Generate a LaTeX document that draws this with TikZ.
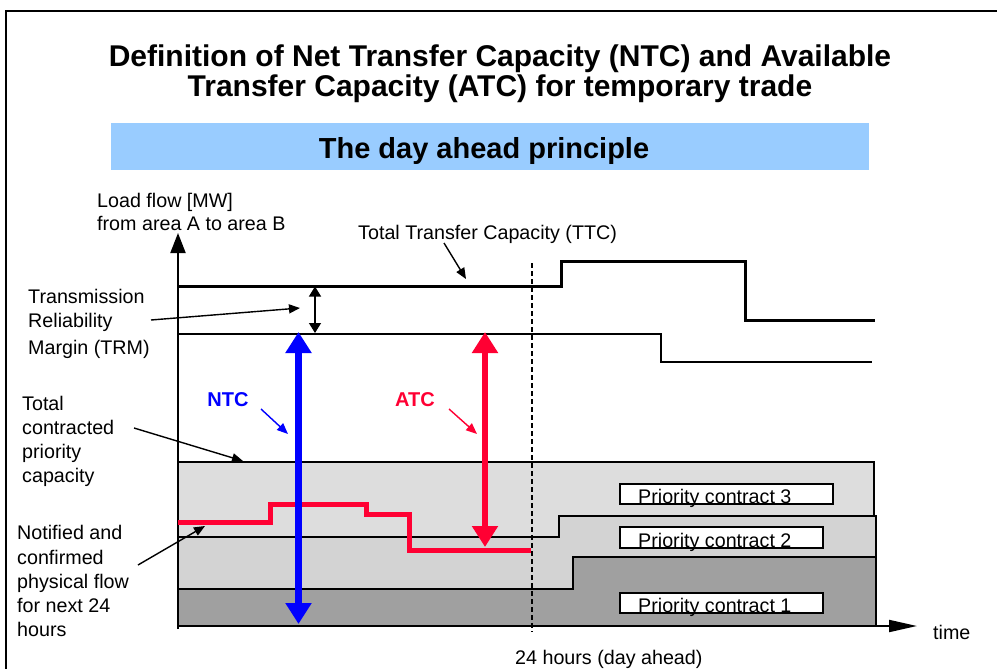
\documentclass[tikz,border=0pt]{standalone}
\usepackage{fontspec}
\setmainfont{Liberation Sans}
\usetikzlibrary{arrows.meta}
\definecolor{hdrblue}{HTML}{99CCFF}
\definecolor{ntcblue}{HTML}{0000FF}
\definecolor{atcred}{HTML}{FF0033}
\definecolor{gLight}{HTML}{DDDDDD}
\definecolor{gMid}{HTML}{D3D3D3}
\definecolor{gDark}{HTML}{A0A0A0}
\begin{document}
\begin{tikzpicture}[x=1pt,y=-1pt,
  lbl/.style={inner sep=0pt, font=\fontsize{19.7}{24}\selectfont, align=left, anchor=base west},
  boldlbl/.style={inner sep=0pt, font=\fontsize{20}{24}\selectfont\bfseries, anchor=center},
  note/.style={line width=1.4pt, -{Triangle[length=11pt,width=9pt]}},
  region/.style={draw=black, line width=1.5pt, line join=miter},
  pcbox/.style={draw=black, fill=white, line width=1.5pt, inner sep=0pt, anchor=north west},
  bigarrow/.style={line width=#1, {Triangle[length=21pt,width=25pt]}-{Triangle[length=21pt,width=25pt]}}
]
\useasboundingbox (0,0) rectangle (997,669);
% frame
\draw[line width=2pt] (6,11) rectangle (1020,690);

% title (base anchor = baseline of the last line)
\node[inner sep=0pt, anchor=base, align=center, font=\fontsize{30}{30}\selectfont\bfseries] (title) at (500,97)
  {Definition of Net Transfer Capacity (NTC) and Available\\Transfer Capacity (ATC) for temporary trade};
\node[fill=hdrblue, inner sep=0pt, minimum width=758pt, minimum height=47pt, anchor=north west] (hdr) at (111,123) {};
\node[inner sep=0pt, anchor=base, font=\fontsize{29}{29}\selectfont\bfseries] (hdrtxt) at (484,158.5) {The day ahead principle};

% priority regions
\fill[gLight] (178,462) -- (874,462) -- (874,626) -- (178,626) -- cycle;
\draw[region] (178,462) -- (874,462) -- (874,516);
\filldraw[region, fill=gMid] (178,537) -- (559,537) -- (559,516) -- (876,516) -- (876,626) -- (178,626) -- cycle;
\filldraw[region, fill=gDark] (178,589) -- (573,589) -- (573,557) -- (876,557) -- (876,626) -- (178,626) -- cycle;

\node[pcbox, minimum width=213pt, minimum height=20pt] (pc3) at (619,483) {};
\node[pcbox, minimum width=203pt, minimum height=21pt] (pc2) at (619,526) {};
\node[pcbox, minimum width=203pt, minimum height=20pt] (pc1) at (619,592) {};
\node[lbl] (pc3t) at (638,503.3) {Priority contract 3};
\node[lbl] (pc2t) at (638,547.3) {Priority contract 2};
\node[lbl] (pc1t) at (638,612.3) {Priority contract 1};

% axes
\coordinate (yb) at (178,629);
\coordinate (ytip) at (178,233);
\coordinate (xb) at (177,626);
\coordinate (xtip) at (917,626);
\draw[line width=2pt, -{Triangle[length=20pt,width=15pt]}] (yb) -- (ytip);
\draw[line width=2pt, -{Triangle[length=28pt,width=12pt]}] (xb) -- (xtip);

% TTC and NTC lines
\draw[line width=3pt] (178,286) -- (561,286) -- (561,261) -- (745,261) -- (745,320) -- (875,320);
\draw[line width=1.5pt] (178,334) -- (661,334) -- (661,362) -- (872,362);

% TRM arrow
\coordinate (trmTop) at (315,286.5);
\coordinate (trmBot) at (315,333);
\draw[line width=1.3pt, {Triangle[length=10pt,width=12pt]}-{Triangle[length=10pt,width=12pt]}] (trmTop) -- (trmBot);

% 24 h dashed line
\draw[line width=2.5pt, dash pattern=on 5pt off 3pt] (532,263) -- (532,632);

% confirmed flow
\draw[atcred, line width=5pt] (178,522.5) -- (270,522.5) -- (270,504) -- (366,504) -- (366,514) -- (409,514) -- (409,550) -- (530.5,550);

% NTC and ATC arrows
\coordinate (ntcTop) at (298.5,332);
\coordinate (ntcBot) at (298.5,624);
\draw[ntcblue, bigarrow=7pt] (ntcTop) -- (ntcBot);
\coordinate (atcTop) at (485,332);
\coordinate (atcBot) at (485,547);
\draw[atcred, bigarrow=6pt] (atcTop) -- (atcBot);

\node[boldlbl, text=ntcblue] (ntc) at (228,400) {NTC};
\node[boldlbl, text=atcred] (atc) at (415,400) {ATC};
\coordinate (ntcA) at (261,409);
\coordinate (ntcB) at (288,434);
\coordinate (atcA) at (449,409);
\coordinate (atcB) at (477,434);
\draw[note, ntcblue] (ntcA) -- (ntcB);
\draw[note, atcred] (atcA) -- (atcB);

% labels (base anchor = baseline of the last line)
\node[lbl] (yl) at (97,230) {Load flow [MW]\\[-1.5pt]from area A to area B};
\node[lbl] (ttcl) at (358,239) {Total Transfer Capacity (TTC)};
\node[lbl] (trml) at (28,354) {Transmission\\[-0.5pt]Reliability\\[3pt]Margin (TRM)};
\node[lbl] (tcpl) at (22,482) {Total\\contracted\\priority\\capacity};
\node[lbl] (nfl) at (17,636.7) {Notified and\\[0.2pt]confirmed\\[0.2pt]physical flow\\[0.2pt]for next 24\\[0.2pt]hours};
\node[lbl] (timel) at (933,639) {time};
\node[lbl] (dayl) at (515,664.5) {24 hours (day ahead)};

% annotation arrows
\coordinate (ttcA) at (444,243);
\coordinate (ttcB) at (466,279);
\coordinate (trmA) at (151,320);
\coordinate (trmB) at (300,308);
\coordinate (tcpA) at (134,428);
\coordinate (tcpB) at (243,461);
\coordinate (nfA) at (138,565);
\coordinate (nfB) at (205,526);
\draw[note] (ttcA) -- (ttcB);
\draw[note] (trmA) -- (trmB);
\draw[note] (tcpA) -- (tcpB);
\draw[note] (nfA) -- (nfB);
\end{tikzpicture}
\end{document}
